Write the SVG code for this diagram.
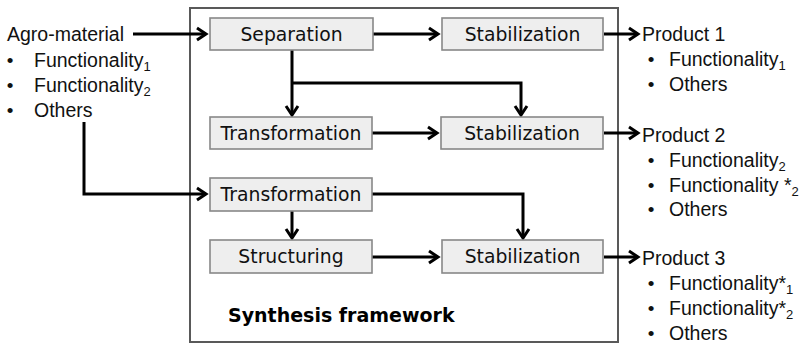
<svg xmlns="http://www.w3.org/2000/svg" width="805" height="344" viewBox="0 0 805 344">
<style>
.box{fill:#eeeeee;stroke:#888888;stroke-width:1.6}
.bl{font-family:"DejaVu Sans",Verdana,sans-serif;font-size:18.8px;fill:#111;text-anchor:middle}
.tx{font-family:"Liberation Sans",Arial,sans-serif;font-size:19.5px;fill:#111}
.sub{font-size:13px}
.bul{font-family:"Liberation Sans",Arial,sans-serif;font-size:19px;fill:#111;text-anchor:middle}
.ttl{font-family:"DejaVu Sans",Verdana,sans-serif;font-size:19px;font-weight:bold;fill:#000}
.ln{fill:none;stroke:#000;stroke-width:3;marker-end:url(#ah)}
</style>
<defs>
<marker id="ah" markerUnits="userSpaceOnUse" markerWidth="16" markerHeight="16" refX="11" refY="8" orient="auto">
<path d="M2,2 L11,8 L2,14" fill="none" stroke="#000" stroke-width="3"/>
</marker>
</defs>
<rect id="frame" x="190" y="8" width="428" height="334" fill="none" stroke="#595959" stroke-width="2"/>
<text class="ttl" x="228" y="322">Synthesis framework</text>

<g id="connectors">
<path class="ln" d="M133,34 H206"/>
<path class="ln" d="M373,34 H438"/>
<path class="ln" d="M604,34 H638"/>
<path class="ln" d="M292,50 V115"/>
<path class="ln" d="M292,83 H521 V115"/>
<path class="ln" d="M372,133 H437"/>
<path class="ln" d="M604,133 H638"/>
<path class="ln" d="M84,122 V194 H206"/>
<path class="ln" d="M292,211 V238"/>
<path class="ln" d="M372,194 H523 V238"/>
<path class="ln" d="M372,257 H438"/>
<path class="ln" d="M604,257 H638"/>
</g>

<g id="n-input">
<text class="tx" x="7" y="41">Agro-material</text>
<text class="bul" x="10" y="67">•</text><text class="tx" x="34" y="67">Functionality<tspan class="sub" dy="4">1</tspan></text>
<text class="bul" x="10" y="92">•</text><text class="tx" x="34" y="92">Functionality<tspan class="sub" dy="4">2</tspan></text>
<text class="bul" x="10" y="117">•</text><text class="tx" x="34" y="117">Others</text>
</g>

<g id="n-separation"><rect class="box" x="210" y="18" width="163" height="32"/><text class="bl" x="291.5" y="41">Separation</text></g>
<g id="n-stab1"><rect class="box" x="442" y="18" width="161" height="32"/><text class="bl" x="522.5" y="41">Stabilization</text></g>
<g id="n-trans1"><rect class="box" x="210" y="117" width="162" height="32"/><text class="bl" x="291" y="140">Transformation</text></g>
<g id="n-stab2"><rect class="box" x="441" y="117" width="162" height="32"/><text class="bl" x="522" y="140">Stabilization</text></g>
<g id="n-trans2"><rect class="box" x="210" y="178" width="162" height="33"/><text class="bl" x="291" y="201">Transformation</text></g>
<g id="n-struct"><rect class="box" x="210" y="240" width="162" height="33"/><text class="bl" x="291" y="263">Structuring</text></g>
<g id="n-stab3"><rect class="box" x="442" y="240" width="161" height="33"/><text class="bl" x="522.5" y="263">Stabilization</text></g>

<g id="n-product1">
<text class="tx" x="642" y="41">Product 1</text>
<text class="bul" x="651" y="66">•</text><text class="tx" x="669" y="66">Functionality<tspan class="sub" dy="4">1</tspan></text>
<text class="bul" x="651" y="91">•</text><text class="tx" x="669" y="91">Others</text>
</g>
<g id="n-product2">
<text class="tx" x="642" y="142">Product 2</text>
<text class="bul" x="651" y="167">•</text><text class="tx" x="669" y="167">Functionality<tspan class="sub" dy="4">2</tspan></text>
<text class="bul" x="651" y="192">•</text><text class="tx" x="669" y="192">Functionality *<tspan class="sub" dy="4">2</tspan></text>
<text class="bul" x="651" y="216">•</text><text class="tx" x="669" y="216">Others</text>
</g>
<g id="n-product3">
<text class="tx" x="642" y="265">Product 3</text>
<text class="bul" x="651" y="290">•</text><text class="tx" x="669" y="290">Functionality*<tspan class="sub" dy="4">1</tspan></text>
<text class="bul" x="651" y="315">•</text><text class="tx" x="669" y="315">Functionality*<tspan class="sub" dy="4">2</tspan></text>
<text class="bul" x="651" y="340">•</text><text class="tx" x="669" y="340">Others</text>
</g>
</svg>
